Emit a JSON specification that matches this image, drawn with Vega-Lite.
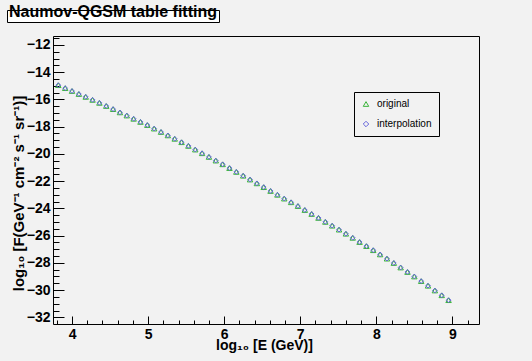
{
  "$schema": "https://vega.github.io/schema/vega-lite/v6.json",
  "background": "#f2f2f2",
  "autosize": {"type": "none"},
  "padding": {"left": 53, "top": 36, "right": 53, "bottom": 37},
  "width": 426,
  "height": 288,
  "config": {
    "font": "Liberation Sans",
    "view": {"stroke": "black", "strokeWidth": 1},
    "axis": {"grid": false, "domain": false, "tickColor": "black", "tickWidth": 1, "labelColor": "black", "titleColor": "black", "labelFont": "Liberation Sans", "titleFont": "Liberation Sans"},
    "legend": {"fillColor": "#f2f2f2", "strokeColor": "black", "padding": 7, "labelFontSize": 10, "labelFont": "Liberation Sans", "labelColor": "black", "symbolSize": 30, "symbolStrokeWidth": 1, "rowPadding": 10, "labelOffset": 6}
  },
  "data": {"values": [
    {"e": 3.82, "original": -14.95, "interpolation": -14.95},
    {"e": 3.91, "original": -15.17, "interpolation": -15.17},
    {"e": 4.00, "original": -15.38, "interpolation": -15.38},
    {"e": 4.09, "original": -15.60, "interpolation": -15.60},
    {"e": 4.18, "original": -15.81, "interpolation": -15.81},
    {"e": 4.27, "original": -16.03, "interpolation": -16.03},
    {"e": 4.36, "original": -16.25, "interpolation": -16.25},
    {"e": 4.45, "original": -16.48, "interpolation": -16.48},
    {"e": 4.54, "original": -16.71, "interpolation": -16.71},
    {"e": 4.63, "original": -16.95, "interpolation": -16.95},
    {"e": 4.72, "original": -17.18, "interpolation": -17.18},
    {"e": 4.81, "original": -17.42, "interpolation": -17.42},
    {"e": 4.90, "original": -17.65, "interpolation": -17.65},
    {"e": 4.99, "original": -17.88, "interpolation": -17.88},
    {"e": 5.08, "original": -18.14, "interpolation": -18.14},
    {"e": 5.17, "original": -18.39, "interpolation": -18.39},
    {"e": 5.26, "original": -18.64, "interpolation": -18.64},
    {"e": 5.35, "original": -18.89, "interpolation": -18.89},
    {"e": 5.44, "original": -19.14, "interpolation": -19.14},
    {"e": 5.53, "original": -19.41, "interpolation": -19.41},
    {"e": 5.62, "original": -19.68, "interpolation": -19.68},
    {"e": 5.71, "original": -19.95, "interpolation": -19.95},
    {"e": 5.80, "original": -20.22, "interpolation": -20.22},
    {"e": 5.89, "original": -20.49, "interpolation": -20.49},
    {"e": 5.98, "original": -20.76, "interpolation": -20.76},
    {"e": 6.07, "original": -21.04, "interpolation": -21.04},
    {"e": 6.16, "original": -21.32, "interpolation": -21.32},
    {"e": 6.25, "original": -21.60, "interpolation": -21.60},
    {"e": 6.34, "original": -21.88, "interpolation": -21.88},
    {"e": 6.43, "original": -22.16, "interpolation": -22.16},
    {"e": 6.52, "original": -22.44, "interpolation": -22.44},
    {"e": 6.61, "original": -22.72, "interpolation": -22.72},
    {"e": 6.70, "original": -23.00, "interpolation": -23.00},
    {"e": 6.79, "original": -23.28, "interpolation": -23.28},
    {"e": 6.88, "original": -23.55, "interpolation": -23.55},
    {"e": 6.97, "original": -23.83, "interpolation": -23.83},
    {"e": 7.06, "original": -24.12, "interpolation": -24.12},
    {"e": 7.15, "original": -24.41, "interpolation": -24.41},
    {"e": 7.24, "original": -24.70, "interpolation": -24.70},
    {"e": 7.33, "original": -24.99, "interpolation": -24.99},
    {"e": 7.42, "original": -25.27, "interpolation": -25.27},
    {"e": 7.51, "original": -25.56, "interpolation": -25.56},
    {"e": 7.60, "original": -25.86, "interpolation": -25.86},
    {"e": 7.69, "original": -26.16, "interpolation": -26.16},
    {"e": 7.78, "original": -26.47, "interpolation": -26.47},
    {"e": 7.87, "original": -26.77, "interpolation": -26.77},
    {"e": 7.96, "original": -27.07, "interpolation": -27.07},
    {"e": 8.05, "original": -27.38, "interpolation": -27.38},
    {"e": 8.14, "original": -27.69, "interpolation": -27.69},
    {"e": 8.23, "original": -28.01, "interpolation": -28.01},
    {"e": 8.32, "original": -28.34, "interpolation": -28.34},
    {"e": 8.41, "original": -28.67, "interpolation": -28.67},
    {"e": 8.50, "original": -29.00, "interpolation": -29.00},
    {"e": 8.59, "original": -29.34, "interpolation": -29.34},
    {"e": 8.68, "original": -29.68, "interpolation": -29.68},
    {"e": 8.77, "original": -30.03, "interpolation": -30.03},
    {"e": 8.86, "original": -30.38, "interpolation": -30.38},
    {"e": 8.95, "original": -30.74, "interpolation": -30.74}
  ]},
  "layer": [
    {
      "transform": [{"fold": ["original", "interpolation"], "as": ["series", "logF"]}, {"filter": "datum.series === 'original'"}],
      "mark": {"type": "point", "filled": false, "size": 30, "strokeWidth": 1, "opacity": 1},
      "encoding": {
        "x": {"field": "e", "type": "quantitative",
          "scale": {"domain": [3.75, 9.35], "nice": false, "zero": false},
          "axis": {"values": [4, 5, 6, 7, 8, 9], "tickSize": -8, "labelPadding": 22, "labelBaseline": "alphabetic", "labelFontSize": 14, "labelFontWeight": "bold", "labelFlush": false, "labelOverlap": false,
            "title": "log₁₀ [E (GeV)]", "titleFontSize": 14, "titleFontWeight": "bold", "titleBaseline": "alphabetic", "titleY": 25, "titleX": 211, "titleAlign": "center"}},
        "y": {"field": "logF", "type": "quantitative",
          "scale": {"domain": [-32.49, -11.34], "nice": false, "zero": false},
          "axis": {"values": [-32, -30, -28, -26, -24, -22, -20, -18, -16, -14, -12], "tickSize": -11, "labelPadding": 14, "labelBaseline": "middle", "labelFontSize": 14, "labelFontWeight": "bold", "labelFlush": false, "labelOverlap": false,
            "title": "log₁₀ [F(GeV⁻¹ cm⁻² s⁻¹ sr⁻¹)]", "titleFontSize": 15, "titleFontWeight": "bold", "titleAngle": -90, "titleX": -35, "titleY": 157, "titleBaseline": "middle", "titleAlign": "center"}},
        "color": {"field": "series", "type": "nominal", "scale": {"domain": ["original", "interpolation"], "range": ["#3cb43c", "#6464dc"]},
          "legend": {"title": null, "orient": "none", "legendX": 301, "legendY": 56}},
        "shape": {"field": "series", "type": "nominal", "scale": {"domain": ["original", "interpolation"], "range": ["triangle-up", "diamond"]},
          "legend": {"title": null, "orient": "none", "legendX": 301, "legendY": 56}}
      }
    },
    {
      "transform": [{"fold": ["original", "interpolation"], "as": ["series", "logF"]}, {"filter": "datum.series === 'interpolation'"}],
      "mark": {"type": "point", "filled": false, "size": 22, "strokeWidth": 1, "opacity": 1},
      "encoding": {
        "x": {"field": "e", "type": "quantitative",
          "axis": {"orient": "bottom", "values": [3.8, 4.2, 4.4, 4.6, 4.8, 5.2, 5.4, 5.6, 5.8, 6.2, 6.4, 6.6, 6.8, 7.2, 7.4, 7.6, 7.8, 8.2, 8.4, 8.6, 8.8, 9.2], "tickSize": -4, "labels": false, "title": null}},
        "y": {"field": "logF", "type": "quantitative",
          "axis": {"orient": "left", "values": [-31.5, -31, -30.5, -29.5, -29, -28.5, -27.5, -27, -26.5, -25.5, -25, -24.5, -23.5, -23, -22.5, -21.5, -21, -20.5, -19.5, -19, -18.5, -17.5, -17, -16.5, -15.5, -15, -14.5, -13.5, -13, -12.5, -11.5], "tickSize": -6, "labels": false, "title": null}},
        "color": {"field": "series", "type": "nominal",
          "legend": {"title": null, "orient": "none", "legendX": 301, "legendY": 56}},
        "shape": {"field": "series", "type": "nominal",
          "legend": {"title": null, "orient": "none", "legendX": 301, "legendY": 56}}
      }
    },
    {
      "data": {"values": [{"label": "Naumov-QGSM table fitting"}]},
      "mark": {"type": "point", "opacity": 0, "filled": true},
      "encoding": {
        "size": {"field": "label", "type": "nominal", "scale": {"range": [0]},
          "legend": {"title": null, "orient": "none", "legendX": -46, "legendY": -26, "fillColor": "white", "strokeColor": "black", "padding": 2, "labelFontSize": 16, "labelFontWeight": "bold", "labelColor": "black", "labelLimit": 400, "labelOffset": 9, "symbolOpacity": 0, "symbolStrokeWidth": 0}}
      }
    }
  ],
  "resolve": {"axis": {"x": "independent", "y": "independent"}}
}
